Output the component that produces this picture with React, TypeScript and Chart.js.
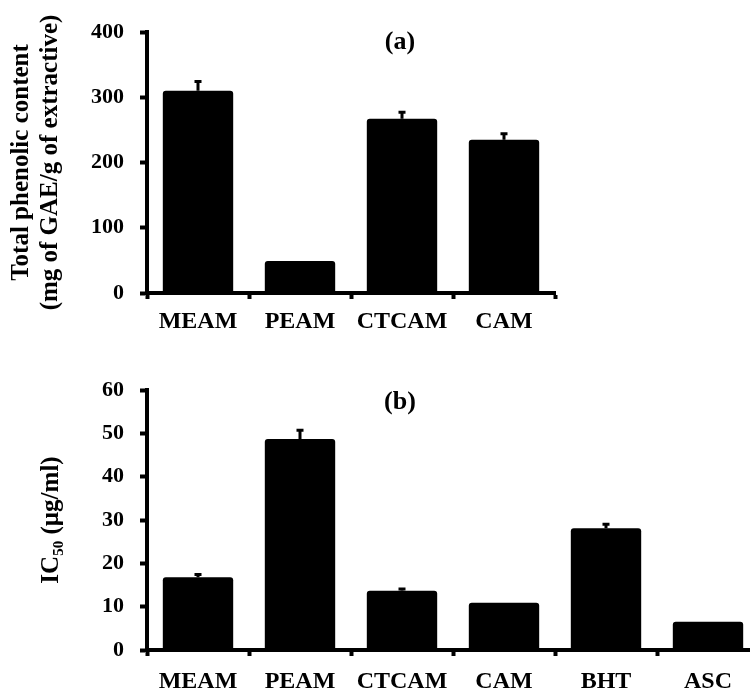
import React, { useEffect, useRef } from 'react';
import { Chart, registerables } from 'chart.js';

Chart.register(...registerables);

const FONT = '"Liberation Serif", "Times New Roman", Times, serif';

// ---- Data: panel (a) Total phenolic content ----
const topCategories = ['MEAM', 'PEAM', 'CTCAM', 'CAM'];
const topValues = [310, 49, 267, 235];
const topErrors = [14, 0, 10, 9];
const topTicks = [0, 100, 200, 300, 400];

// ---- Data: panel (b) IC50 ----
const bottomCategories = ['MEAM', 'PEAM', 'CTCAM', 'CAM', 'BHT', 'ASC'];
const bottomValues = [16.8, 48.7, 13.7, 10.9, 28.1, 6.5];
const bottomErrors = [0.6, 2.0, 0.4, 0, 0.9, 0];
const bottomTicks = [0, 10, 20, 30, 40, 50, 60];

const errorBarPlugin = {
  id: 'errorBars',
  afterDatasetsDraw(chart: any, _args: any, opts: any) {
    const errors: number[] = opts.errors || [];
    const meta = chart.getDatasetMeta(0);
    const yScale = chart.scales.y;
    const values = chart.data.datasets[0].data as number[];
    const ctx = chart.ctx;
    ctx.save();
    ctx.strokeStyle = '#000';
    ctx.lineWidth = 3;
    meta.data.forEach((bar: any, i: number) => {
      const e = errors[i];
      if (!e) return;
      const v = values[i];
      const y0 = yScale.getPixelForValue(v);
      const y1 = yScale.getPixelForValue(v + e);
      ctx.beginPath();
      ctx.moveTo(bar.x, y0);
      ctx.lineTo(bar.x, y1);
      ctx.moveTo(bar.x - 3.5, y1);
      ctx.lineTo(bar.x + 3.5, y1);
      ctx.stroke();
    });
    ctx.restore();
  },
};

const panelLabelPlugin = {
  id: 'panelLabel',
  afterDraw(chart: any, _args: any, opts: any) {
    const { ctx, chartArea } = chart;
    ctx.save();
    ctx.font = `bold 26px ${FONT}`;
    ctx.fillStyle = '#000';
    ctx.textAlign = 'center';
    ctx.textBaseline = 'middle';
    ctx.fillText(opts.text, chartArea.left + opts.dx, chartArea.top + opts.dy);
    ctx.restore();
  },
};

type PanelProps = {
  width: number;
  height: number;
  top: number;
  categories: string[];
  values: number[];
  errors: number[];
  ticks: number[];
  title: string | string[];
  titlePad: number;
  titleLineHeight: number;
  label: string;
  labelDx: number;
  labelDy: number;
  padTop: number;
  padRight: number;
  xAxisHeight: number;
  xLabelPad: number;
};

function BarPanel(p: PanelProps) {
  const ref = useRef<HTMLCanvasElement | null>(null);
  useEffect(() => {
    if (!ref.current) return;
    const chart = new Chart(ref.current, {
      type: 'bar',
      data: {
        labels: p.categories,
        datasets: [
          {
            data: p.values,
            backgroundColor: '#000',
            borderWidth: 0,
            borderRadius: 3,
            barPercentage: 0.69,
            categoryPercentage: 1,
          },
        ],
      },
      options: {
        animation: false,
        responsive: false,
        devicePixelRatio: 1,
        layout: { padding: { left: 0, top: p.padTop, right: p.padRight, bottom: 0 } },
        plugins: {
          legend: { display: false },
          tooltip: { enabled: false },
          errorBars: { errors: p.errors },
          panelLabel: { text: p.label, dx: p.labelDx, dy: p.labelDy },
        } as any,
        scales: {
          x: {
            offset: true,
            grid: {
              offset: true,
              drawOnChartArea: false,
              drawTicks: true,
              tickLength: 6,
              tickWidth: 4,
              tickColor: '#000',
              color: '#000',
            },
            border: { display: true, color: '#000', width: 4 },
            ticks: {
              color: '#000',
              font: { family: FONT, size: 24, weight: 'bold' },
              padding: p.xLabelPad,
              autoSkip: false,
              maxRotation: 0,
              minRotation: 0,
            },
            afterFit: (axis: any) => {
              axis.height = p.xAxisHeight;
            },
          },
          y: {
            min: p.ticks[0],
            max: p.ticks[p.ticks.length - 1],
            afterBuildTicks: (axis: any) => {
              axis.ticks = p.ticks.map((v) => ({ value: v }));
            },
            grid: {
              drawOnChartArea: false,
              drawTicks: true,
              tickLength: 7,
              tickWidth: 4,
              tickColor: '#000',
              color: '#000',
            },
            border: { display: true, color: '#000', width: 4 },
            ticks: {
              color: '#000',
              font: { family: FONT, size: 22, weight: 'bold' },
              padding: 16,
            },
            title: {
              display: true,
              text: p.title,
              color: '#000',
              font: { family: FONT, size: 25, weight: 'bold', lineHeight: p.titleLineHeight },
              padding: { top: p.titlePad, bottom: 0 },
            },
            afterFit: (axis: any) => {
              axis.width = 147;
            },
          },
        },
      } as any,
      plugins: [errorBarPlugin, panelLabelPlugin],
    });
    return () => chart.destroy();
  }, []);
  return (
    <div style={{ position: 'absolute', left: 0, top: p.top, width: p.width, height: p.height }}>
      <canvas ref={ref} width={p.width} height={p.height} style={{ width: p.width, height: p.height, display: 'block' }} />
    </div>
  );
}

export default function App() {
  return (
    <div
      style={{
        position: 'absolute',
        left: 0,
        top: 0,
        width: 750,
        height: 689,
        overflow: 'hidden',
        background: '#fff',
      }}
    >
      <BarPanel
        width={750}
        height={340}
        top={0}
        categories={topCategories}
        values={topValues}
        errors={topErrors}
        ticks={topTicks}
        title={['Total phenolic content', '(mg of GAE/g of extractive)']}
        titlePad={7.5}
        titleLineHeight={1.16}
        label="(a)"
        labelDx={253}
        labelDy={10}
        padTop={32}
        padRight={195}
        xAxisHeight={47}
        xLabelPad={8}
      />
      <BarPanel
        width={800}
        height={349}
        top={340}
        categories={bottomCategories}
        values={bottomValues}
        errors={bottomErrors}
        ticks={bottomTicks}
        title={'IC\u2085\u2080 (\u00b5g/ml)'}
        titlePad={37}
        titleLineHeight={1.2}
        label="(b)"
        labelDx={253}
        labelDy={12}
        padTop={50}
        padRight={41}
        xAxisHeight={39}
        xLabelPad={11}
      />
    </div>
  );
}
